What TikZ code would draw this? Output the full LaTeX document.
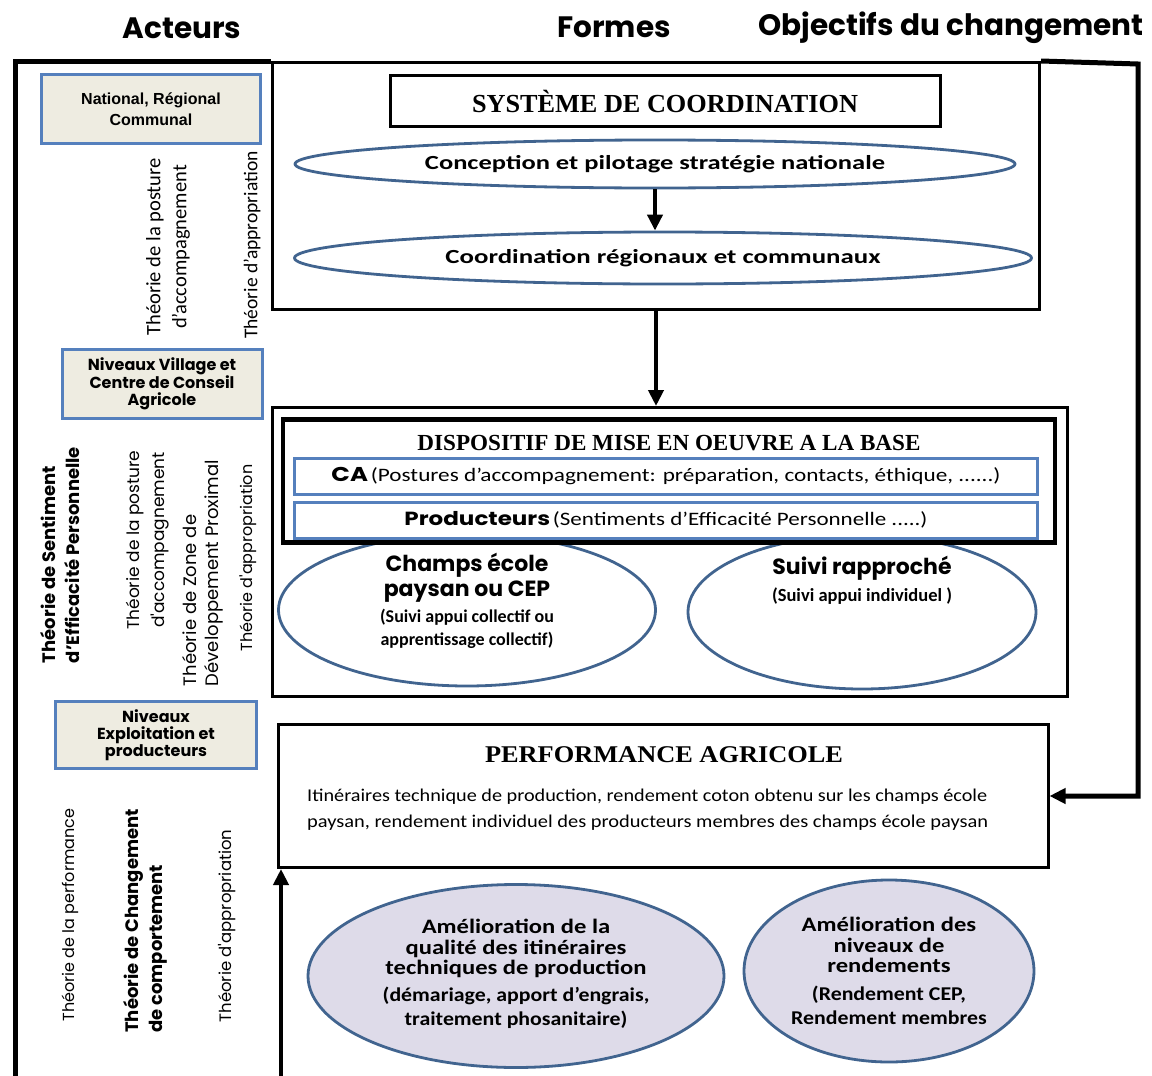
\documentclass[tikz,border=0pt]{standalone}
\usepackage{graphicx}
\usepackage{fontspec}
\setmainfont{Carlito}
\newfontfamily\gothic{Poppins}
\newfontfamily\titlefont{Liberation Serif}
\newfontfamily\arialfont{Liberation Sans}
\usetikzlibrary{shapes.geometric,arrows.meta,positioning}
\definecolor{ellblue}{HTML}{41648F}
\definecolor{boxblue}{HTML}{5580BD}
\definecolor{beige}{HTML}{EEECE1}
\definecolor{lavender}{HTML}{DEDBE9}
\newcommand{\fitw}[2]{\resizebox{#1}{\height}{#2}}
\newcommand{\fs}[2]{\fontsize{#1}{#2}\selectfont}
\newcommand{\wide}[2]{\scalebox{#1}[1]{\begin{tabular}{@{}c@{}}#2\end{tabular}}}
\tikzset{
  frame/.style={line width=5pt},
  formbox/.style={draw,line width=3pt,inner sep=0pt,fill=white},
  actorbox/.style={draw=boxblue,fill=beige,line width=3pt,inner sep=0pt,align=center},
  oval/.style={ellipse,draw=ellblue,line width=2.8pt,inner sep=0pt},
  bar/.style={draw=boxblue,line width=3pt,inner sep=0pt,fill=white},
  txt/.style={align=center,inner sep=0pt},
  theory/.style={rotate=90,align=center,inner sep=0pt},
  tip/.style={-{Triangle[length=16pt,width=15pt]}},
  flow/.style={line width=4pt,tip},
  head/.style={font=\gothic\bfseries\fs{29.5}{32}}
}
\begin{document}
\begin{tikzpicture}[x=1pt,y=-1pt]
  \useasboundingbox (0,0) rectangle (1152,1076);
  % titres
  \node[head] (hact) at (182,28) {Acteurs};
  \node[head] (hfor) at (614,27) {Formes};
  \node[head] (hobj) at (951,28) {Objectifs du changement};

  % systeme de coordination
  \node[formbox,minimum width=767pt,minimum height=247pt] (sys) at (656,186) {};
  \node[formbox,minimum width=550pt,minimum height=51pt] (systitle) at (665,101)
    {\fitw{386pt}{\titlefont\bfseries\fs{26}{30}SYSTÈME DE COORDINATION}};
  \node[oval,minimum width=720pt,minimum height=48pt] (strat) at (655,164)
    {\fitw{460pt}{\bfseries\fs{20}{24}Conception et pilotage stratégie nationale}};
  \node[oval,minimum width=737pt,minimum height=52pt] (coord) at (663,258)
    {\fitw{435pt}{\bfseries\fs{20}{24}Coordination régionaux et communaux}};
  \draw[flow] (strat.south) -- (strat.south |- coord.north);

  % dispositif a la base
  \node[formbox,minimum width=795pt,minimum height=289pt] (disp) at (670,552) {};
  \node[oval,minimum width=377pt,minimum height=152pt] (cep) at (467,610) {};
  \node[oval,minimum width=348pt,minimum height=154pt] (suivi) at (862,612) {};
  \node[formbox,line width=4.5pt,minimum width=772pt,minimum height=123pt] (dispin) at (669,481) {};
  \node (disptitle) at (669,443)
    {\fitw{503pt}{\titlefont\bfseries\fs{23}{26}DISPOSITIF DE MISE EN OEUVRE A LA BASE}};
  \node[bar,minimum width=743pt,minimum height=36pt] (ca) at (666,476)
    {\fitw{669pt}{{\gothic\bfseries\fs{20}{24}CA} \fs{19}{24}(Postures d’accompagnement: préparation, contacts, éthique, ......)}};
  \node[bar,minimum width=743pt,minimum height=36pt] (prod) at (666,520)
    {\fitw{523pt}{{\gothic\bfseries\fs{19}{24}Producteurs} \fs{19}{24}(Sentiments d’Efficacité Personnelle .....)}};
  \node[txt,font=\gothic\bfseries\fs{22}{25}] (ceptitle) at (467,578) {Champs école\\paysan ou CEP};
  \node[txt,font=\bfseries\fs{18}{23}] (cepsub) at (467,629) {(Suivi appui collectif ou\\apprentissage collectif)};
  \node[txt,font=\gothic\bfseries\fs{22}{24}] (suivititle) at (862,568) {Suivi rapproché};
  \node[txt,font=\bfseries\fs{18.5}{20}] (suivisub) at (862,596) {(Suivi appui individuel )};
  \draw[flow] (sys.south) -- (sys.south |- disp.north);

  % performance agricole
  \node[formbox,minimum width=770pt,minimum height=143pt] (perf) at (663,796) {};
  \node (perftitle) at (664,755)
    {\fitw{358pt}{\titlefont\bfseries\fs{24}{28}PERFORMANCE AGRICOLE}};
  \node[anchor=west,align=left,inner sep=0pt,font=\fs{18}{26}] (perftext) at (307,810)
    {\fitw{680pt}{Itinéraires technique de production, rendement coton obtenu sur les champs école}\\
     \fitw{681pt}{paysan, rendement individuel des producteurs membres des champs école paysan}};

  % objectifs
  \node[oval,fill=lavender,minimum width=416pt,minimum height=183pt] (amel1) at (516,976) {};
  \node[txt,font=\bfseries\fs{20.5}{20.5}] (amel1title) at (516,950)
    {\wide{1.2}{Amélioration de la\\qualité des itinéraires\\techniques de production}};
  \node[txt,font=\bfseries\fs{19.5}{24}] (amel1sub) at (516,1009)
    {\wide{1.12}{(démariage, apport d'engrais,\\traitement phosanitaire)}};
  \node[oval,fill=lavender,minimum width=290pt,minimum height=182pt] (amel2) at (889,971) {};
  \node[txt,font=\bfseries\fs{20.5}{20.5}] (amel2title) at (889,948)
    {\wide{1.2}{Amélioration des\\niveaux de\\rendements}};
  \node[txt,font=\bfseries\fs{19.5}{24}] (amel2sub) at (889,1008)
    {\wide{1.12}{(Rendement CEP,\\Rendement membres}};

  % connecteurs du cadre
  \coordinate (fl) at (15,1076);
  \coordinate (rc) at (1138,64);
  \coordinate (bot) at (281,1076);
  \draw[frame] (fl) |- (sys.north west);
  \draw[frame,tip] (sys.north east) -- (rc) |- (perf.east);
  \draw[flow] (bot) -- (bot |- perf.south);

  % acteurs
  \node[actorbox,minimum width=219pt,minimum height=69pt,font=\arialfont\bfseries\fs{16}{21}] (nat) at (151,109)
    {National, Régional\\Communal};
  \node[actorbox,minimum width=200pt,minimum height=69pt,font=\gothic\bfseries\fs{16}{17}] (vil) at (162,384)
    {Niveaux Village et\\Centre de Conseil\\Agricole};
  \node[actorbox,minimum width=201pt,minimum height=67pt,font=\gothic\bfseries\fs{16}{17}] (expl) at (156,735)
    {Niveaux\\Exploitation et\\producteurs};

  % theories
  \node[theory,font=\fs{20.5}{26}] (t1a) at (168,247) {Théorie de la posture\\d'accompagnement};
  \node[theory,font=\fs{19.5}{22}] (t1b) at (252,245) {Théorie d'appropriation};
  \node[theory,align=left,font=\gothic\bfseries\fs{18}{24}] (t2a) at (60,555) {Théorie de Sentiment\\d’Efficacité Personnelle};
  \node[theory,font=\gothic\fs{17}{25}] (t2b) at (148,540) {Théorie de la posture\\d'accompagnement};
  \node[theory,align=left,font=\gothic\fs{18}{22}] (t2c) at (203,573) {Théorie de Zone de\\Développement Proximal};
  \node[theory,font=\gothic\fs{16}{20}] (t2d) at (248,558) {Théorie d'appropriation};
  \node[theory,font=\gothic\fs{16}{20}] (t3a) at (70,915) {Théorie de la performance};
  \node[theory,align=left,font=\gothic\bfseries\fs{18}{24}] (t3b) at (145,921) {Théorie de Changement\\de comportement};
  \node[theory,font=\gothic\fs{16.5}{20}] (t3c) at (227,926) {Théorie d'appropriation};
\end{tikzpicture}
\end{document}
